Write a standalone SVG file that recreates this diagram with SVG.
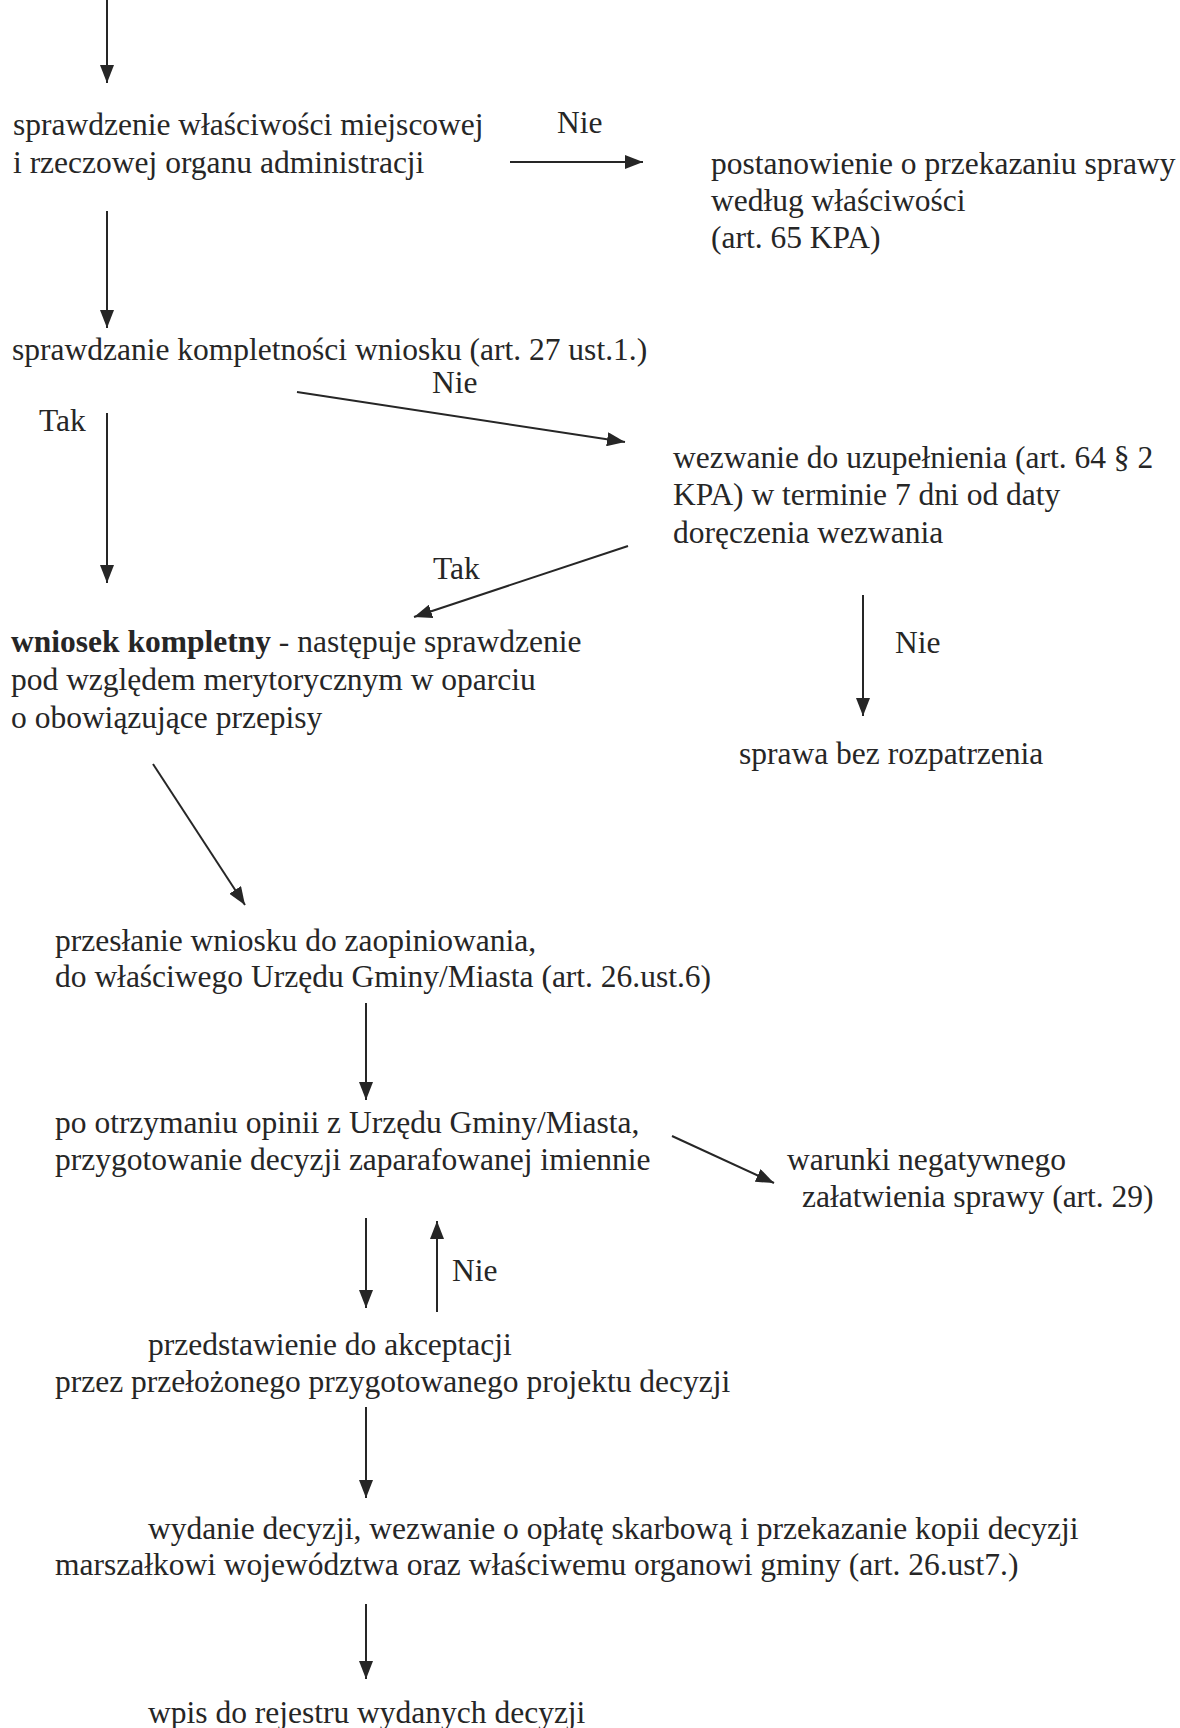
<svg xmlns="http://www.w3.org/2000/svg" width="1180" height="1728" viewBox="0 0 1180 1728">
<defs>
<marker id="ah" viewBox="0 0 18 14" refX="18" refY="7" markerWidth="18" markerHeight="14" markerUnits="userSpaceOnUse" orient="auto">
<path d="M0,0 L18,7 L0,14 Z" fill="#262626"/>
</marker>
<style>
text{font-family:"Liberation Serif","Times New Roman",serif;font-size:31.5px;fill:#262626}
.b{font-weight:bold}
line{stroke:#262626;stroke-width:2;marker-end:url(#ah)}
</style>
</defs>
<rect width="1180" height="1728" fill="#ffffff"/>
<g id="connectors">
<line x1="107" y1="0" x2="107" y2="83"/>
<line x1="510" y1="162" x2="643" y2="162"/>
<line x1="107" y1="211" x2="107" y2="328"/>
<line x1="297" y1="392" x2="625" y2="442"/>
<line x1="107" y1="413" x2="107" y2="583"/>
<line x1="628" y1="546" x2="414" y2="617"/>
<line x1="863" y1="595" x2="863" y2="716"/>
<line x1="153" y1="764" x2="245" y2="905"/>
<line x1="366" y1="1003" x2="366" y2="1100"/>
<line x1="672" y1="1136" x2="774" y2="1183"/>
<line x1="366" y1="1218" x2="366" y2="1308"/>
<line x1="437" y1="1312" x2="437" y2="1221"/>
<line x1="366" y1="1407" x2="366" y2="1498"/>
<line x1="366" y1="1604" x2="366" y2="1679"/>
</g>
<g id="labels">
<text x="557" y="133">Nie</text>
<text x="432" y="393">Nie</text>
<text x="39" y="431">Tak</text>
<text x="433" y="579">Tak</text>
<text x="895" y="653">Nie</text>
<text x="452" y="1281">Nie</text>
</g>
<g id="n1">
<text x="13" y="135">sprawdzenie właściwości miejscowej</text>
<text x="13" y="173">i rzeczowej organu administracji</text>
</g>
<g id="n2">
<text x="711" y="174">postanowienie o przekazaniu sprawy</text>
<text x="711" y="211">według właściwości</text>
<text x="711" y="248">(art. 65 KPA)</text>
</g>
<g id="n3">
<text x="12" y="360">sprawdzanie kompletności wniosku (art. 27 ust.1.)</text>
</g>
<g id="n4">
<text x="673" y="468">wezwanie do uzupełnienia (art. 64 § 2</text>
<text x="673" y="505">KPA) w terminie 7 dni od daty</text>
<text x="673" y="543">doręczenia wezwania</text>
</g>
<g id="n5">
<text x="11" y="652"><tspan class="b">wniosek kompletny</tspan> - następuje sprawdzenie</text>
<text x="11" y="690">pod względem merytorycznym w oparciu</text>
<text x="11" y="728">o obowiązujące przepisy</text>
</g>
<g id="n6">
<text x="739" y="764">sprawa bez rozpatrzenia</text>
</g>
<g id="n7">
<text x="55" y="951">przesłanie wniosku do zaopiniowania,</text>
<text x="55" y="987">do właściwego Urzędu Gminy/Miasta (art. 26.ust.6)</text>
</g>
<g id="n8">
<text x="55" y="1133">po otrzymaniu opinii z Urzędu Gminy/Miasta,</text>
<text x="55" y="1170">przygotowanie decyzji zaparafowanej imiennie</text>
</g>
<g id="n9">
<text x="787" y="1170">warunki negatywnego</text>
<text x="802" y="1207">załatwienia sprawy (art. 29)</text>
</g>
<g id="n10">
<text x="148" y="1355">przedstawienie do akceptacji</text>
<text x="55" y="1392">przez przełożonego przygotowanego projektu decyzji</text>
</g>
<g id="n11">
<text x="148" y="1539">wydanie decyzji, wezwanie o opłatę skarbową i przekazanie kopii decyzji</text>
<text x="55" y="1575">marszałkowi województwa oraz właściwemu organowi gminy (art. 26.ust7.)</text>
</g>
<g id="n12">
<text x="148" y="1723">wpis do rejestru wydanych decyzji</text>
</g>
</svg>
